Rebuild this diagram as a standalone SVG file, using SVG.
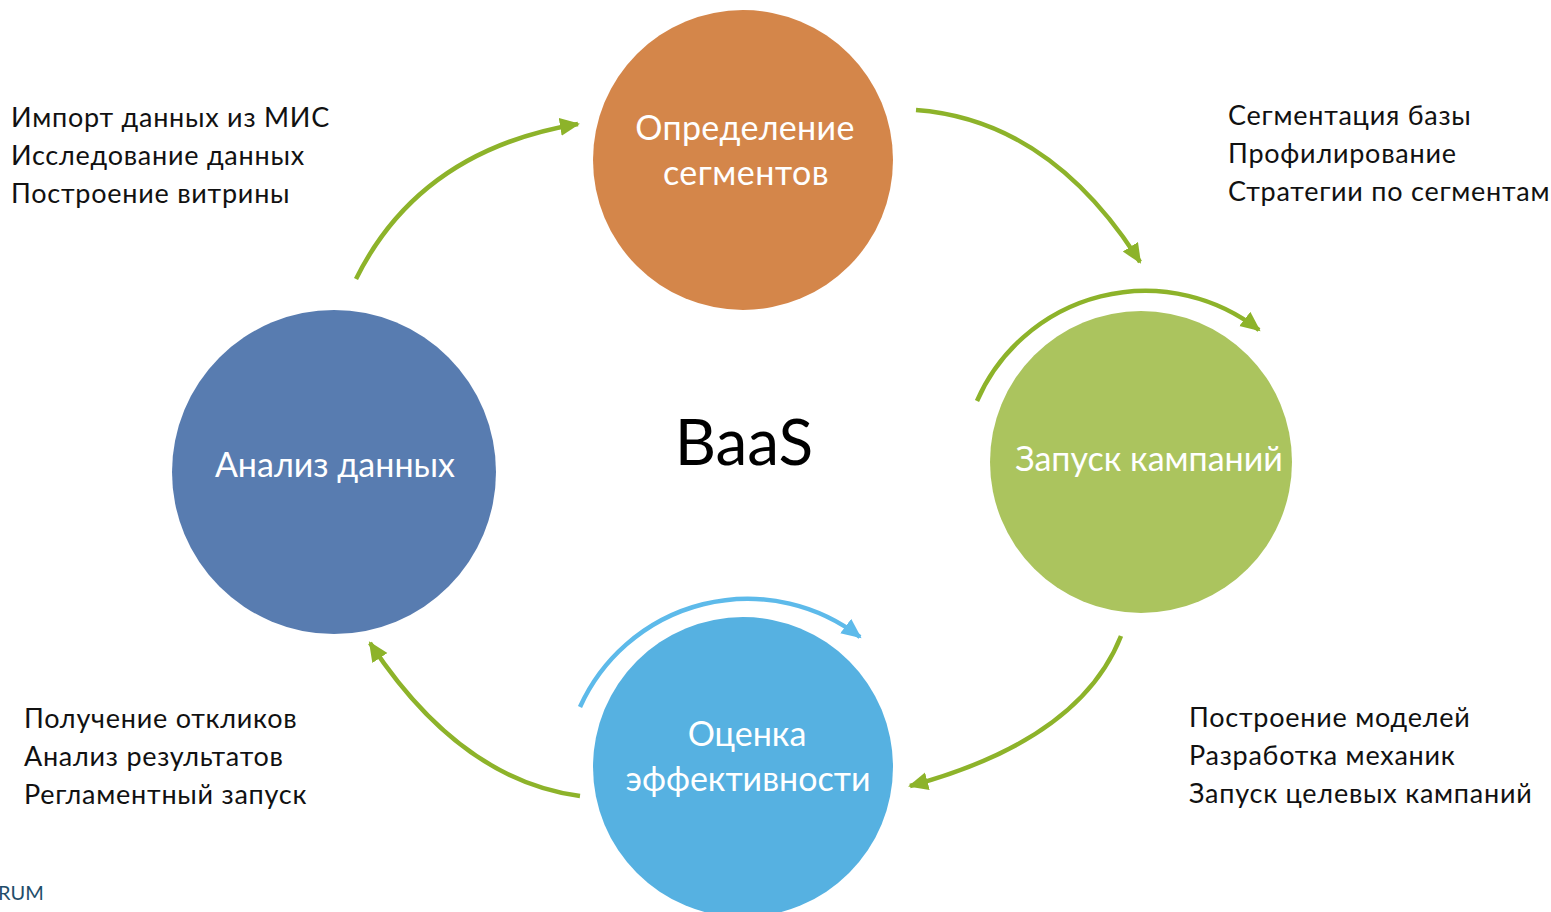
<svg xmlns="http://www.w3.org/2000/svg" width="1551" height="912" viewBox="0 0 1551 912">
<style>
.lbl{font-family:Lato,"Open Sans","Liberation Sans",sans-serif;fill:#fff;font-size:34px;text-anchor:middle}
.side{font-family:Lato,"Open Sans","Liberation Sans",sans-serif;fill:#111;font-size:27px;letter-spacing:0.75px}
.g{fill:none;stroke:#8DB32A;stroke-width:4.5}
.b{fill:none;stroke:#5DBAEA;stroke-width:4.5}
</style>
<defs>
<marker id="ag" markerUnits="userSpaceOnUse" markerWidth="22" markerHeight="20" refX="18" refY="9" orient="auto"><path d="M0,0 L20,9 L0,18 Z" fill="#8DB32A"/></marker>
<marker id="ab" markerUnits="userSpaceOnUse" markerWidth="22" markerHeight="20" refX="18" refY="9" orient="auto"><path d="M0,0 L20,9 L0,18 Z" fill="#5DBAEA"/></marker>
</defs>
<rect width="1551" height="912" fill="#fff"/>
<g id="connectors">
<path class="g" d="M356,279 Q420,150 578,124" marker-end="url(#ag)"/>
<path class="g" d="M916,110 Q1050,120 1140,262" marker-end="url(#ag)"/>
<path class="g" d="M1121,636 Q1080,740 910,786" marker-end="url(#ag)"/>
<path class="g" d="M580,796 Q460,780 370,643" marker-end="url(#ag)"/>
<path class="g" d="M977,401 A184,184 0 0 1 1259,330" marker-end="url(#ag)"/>
<path class="b" d="M580,707 A184,184 0 0 1 860,637" marker-end="url(#ab)"/>
</g>
<g id="node-segments">
<circle cx="743" cy="160" r="150" fill="#D4864A"/>
<text class="lbl" x="745" y="140" letter-spacing="0.3">Определение</text>
<text class="lbl" x="746" y="185" letter-spacing="0.5">сегментов</text>
</g>
<g id="node-analysis">
<circle cx="334" cy="472" r="162" fill="#587CB0"/>
<text class="lbl" x="335" y="477">Анализ данных</text>
</g>
<g id="node-launch">
<circle cx="1141" cy="462" r="151" fill="#ABC45E"/>
<text class="lbl" x="1149" y="471">Запуск кампаний</text>
</g>
<g id="node-eval">
<circle cx="743" cy="767" r="150" fill="#56B1E1"/>
<text class="lbl" x="747" y="746">Оценка</text>
<text class="lbl" x="748" y="791">эффективности</text>
</g>
<g id="center">
<text x="744" y="465" font-family="Lato,'Open Sans','Liberation Sans',sans-serif" font-size="64" text-anchor="middle" fill="#000">BaaS</text>
</g>
<g id="notes-tl">
<text class="side" x="11" y="127">Импорт данных из МИС</text>
<text class="side" x="11" y="165">Исследование данных</text>
<text class="side" x="11" y="203">Построение витрины</text>
</g>
<g id="notes-tr">
<text class="side" x="1228" y="125">Сегментация базы</text>
<text class="side" x="1228" y="163">Профилирование</text>
<text class="side" x="1228" y="201">Стратегии по сегментам</text>
</g>
<g id="notes-bl">
<text class="side" x="24" y="728">Получение откликов</text>
<text class="side" x="24" y="766">Анализ результатов</text>
<text class="side" x="24" y="804">Регламентный запуск</text>
</g>
<g id="notes-br">
<text class="side" x="1189" y="727">Построение моделей</text>
<text class="side" x="1189" y="765">Разработка механик</text>
<text class="side" x="1189" y="803">Запуск целевых кампаний</text>
</g>
<text x="-2" y="900" font-family="Lato,'Open Sans','Liberation Sans',sans-serif" font-size="20" fill="#1F4E6B">RUM</text>
</svg>
